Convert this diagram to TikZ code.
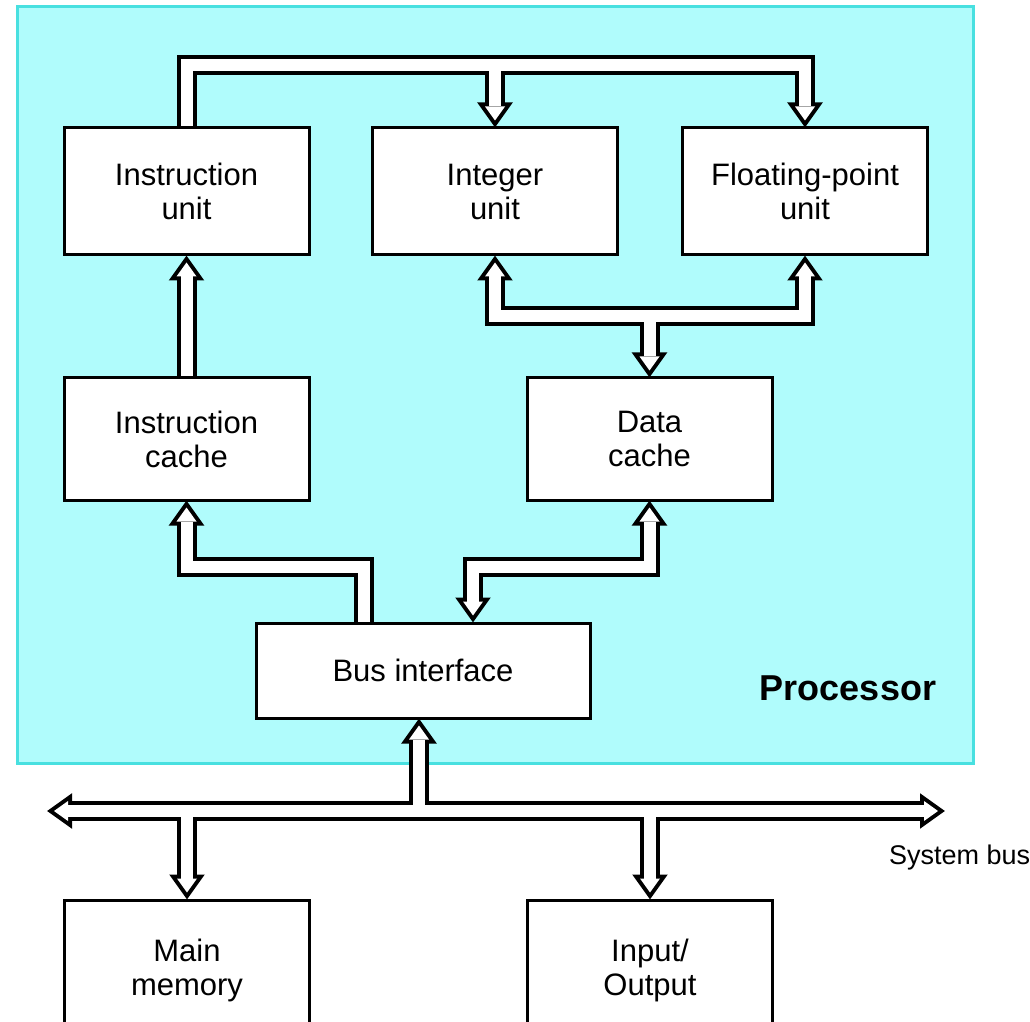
\documentclass[tikz,border=0pt]{standalone}
\usepackage{fontspec}
\setmainfont{Liberation Sans}
\usetikzlibrary{backgrounds}

\definecolor{procfill}{RGB}{176,252,252}
\definecolor{procline}{RGB}{72,224,224}

\tikzset{
  unit/.style={draw, fill=white, line width=1.5pt, align=center, inner sep=0pt,
    minimum width=122.5pt, minimum height=63.5pt, font=\fontsize{15.5}{17}\selectfont},
  busblk/.style={draw=black, line width=10pt, line join=miter},
  buswht/.style={draw=white, line width=6pt, line join=miter},
  headblk/.style={draw=black, fill=black, line width=4pt, line join=miter},
  headwht/.style={fill=white},
  head/.pic={\path[headpart] (-10,-20) -- (10,-20) -- (0,-6) -- cycle;}
}

% all fat buses, drawn twice (black outline, then white inside)
\newcommand{\buslines}{
  \draw[bus, shorten >=10pt] (iu.north) -- ++(0,-61) -| (fp.north);
  \pic at (fp.north) {head};
  \draw[bus, shorten <=10pt] (int.north) -- ++(0,-61);
  \pic at (int.north) {head};
  \draw[bus, shorten <=10pt, shorten >=10pt] (int.south) -- ++(0,60) -| (fp.south);
  \pic[rotate=180] at (int.south) {head};
  \pic[rotate=180] at (fp.south) {head};
  \draw[bus, shorten <=10pt] (dc.north) -- ++(0,-63);
  \pic at (dc.north) {head};
  \draw[bus, shorten >=10pt] (ic.north) -- (iu.south);
  \pic[rotate=180] at (iu.south) {head};
  \draw[bus, shorten <=10pt] (ic.south) -- ++(0,65) -| ([xshift=-29.5pt]bi.north);
  \pic[rotate=180] at (ic.south) {head};
  \draw[bus, shorten <=10pt, shorten >=10pt] (dc.south) -- ++(0,65) -| ([xshift=25pt]bi.north);
  \pic[rotate=180] at (dc.south) {head};
  \pic at ([xshift=25pt]bi.north) {head};
  \draw[bus, shorten <=10pt, shorten >=10pt] (busL) -- (busR);
  \pic[rotate=-90] at (busL) {head};
  \pic[rotate=90] at (busR) {head};
  \draw[bus, shorten <=10pt] ([xshift=-2pt]bi.south) -- ++(0,93);
  \pic[rotate=180] at ([xshift=-2pt]bi.south) {head};
  \draw[bus, shorten <=10pt] (mm.north) -- ++(0,-89);
  \pic at (mm.north) {head};
  \draw[bus, shorten <=10pt] (io.north) -- ++(0,-89);
  \pic at (io.north) {head};
}

\begin{document}
\begin{tikzpicture}[x=0.5pt, y=-0.5pt]
  \useasboundingbox (0,0) rectangle (1030,1022);

  % processor units
  \node[unit] (iu) at (186.5,191.5) {Instruction\\unit};
  \node[unit] (int) at (495,191.5) {Integer\\unit};
  \node[unit] (fp) at (805,191.5) {Floating-point\\unit};
  \node[unit, minimum height=61pt] (ic) at (186.5,439) {Instruction\\cache};
  \node[unit, minimum height=61pt] (dc) at (649.5,439) {Data\\cache};
  \node[unit, minimum width=167pt, minimum height=47.5pt] (bi) at (423,670.5) {Bus interface};
  \node[font=\bfseries\fontsize{18}{20}\selectfont] (proclabel) at (848,688) {Processor};

  % outside the processor
  \node[unit, minimum height=70pt] (mm) at (187,970) {Main\\memory};
  \node[unit, minimum height=70pt] (io) at (650,970) {Input/\\Output};
  \coordinate (busL) at (48,811);
  \coordinate (busR) at (944,811);
  \node[anchor=west, font=\fontsize{13.5}{15}\selectfont] (buslabel) at (882,858) {System bus};

  \begin{scope}[on background layer]
    \fill[white] (0,0) rectangle (1030,1022);
    \draw[procline, fill=procfill, line width=1.5pt] (17,7) rectangle (973,763);
    \tikzset{bus/.style=busblk, headpart/.style=headblk}
    \buslines
    \tikzset{bus/.style=buswht, headpart/.style=headwht}
    \buslines
  \end{scope}
\end{tikzpicture}
\end{document}
